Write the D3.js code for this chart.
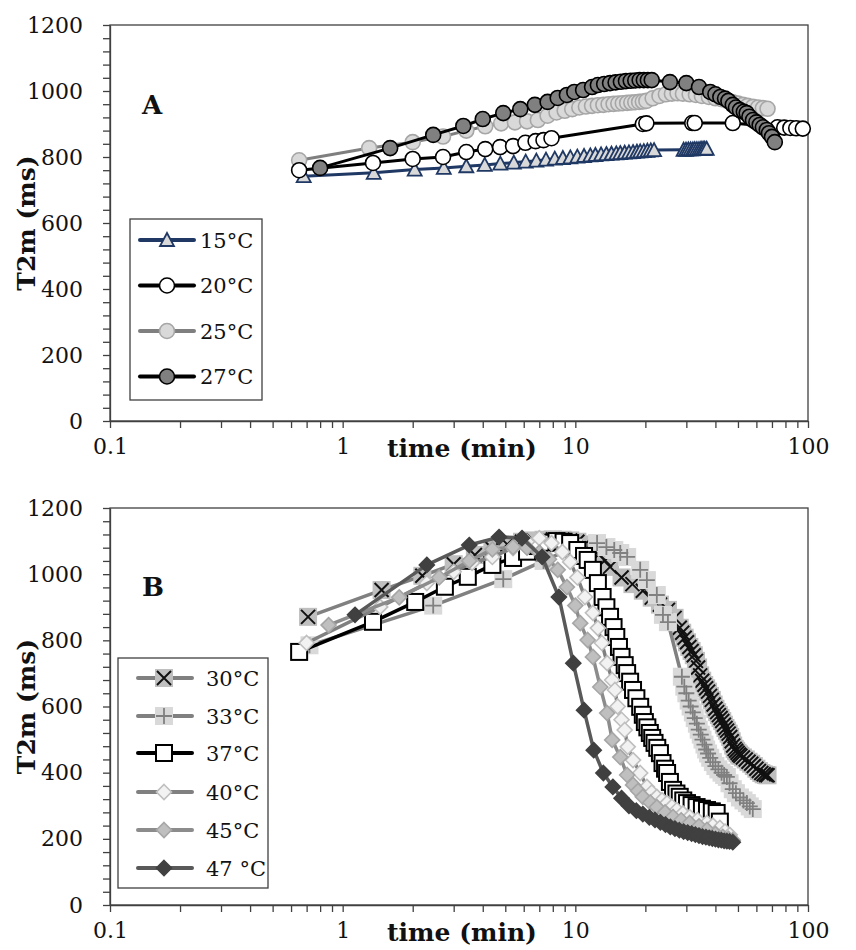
<!DOCTYPE html>
<html><head><meta charset="utf-8">
<script src="https://cdn.jsdelivr.net/npm/d3@7"></script>
<style>body{margin:0;background:#fff}</style>
</head><body>
<svg id="chart" width="856" height="950"></svg>
<script>
// ---------------- DATA ----------------
const xTickValues = [0.1,0.2,0.3,0.4,0.5,0.6,0.7,0.8,0.9,1,2,3,4,5,6,7,8,9,10,20,30,40,50,60,70,80,90,100];
const xLabelValues = [0.1,1,10,100];
const xLabelTexts = ["0.1","1","10","100"];
const yLabelValues = [0,200,400,600,800,1000,1200];

// Panel A
const t15 = [0.68,1.36,2.04,2.72,3.4,4.08,4.76,5.44,6.12,6.8,7.48,8.16,8.84,9.52,10.2,10.9,11.6,12.2,12.9,13.6,14.3,15.0,15.6,16.3,17.0,17.7,18.4,19.0,19.7,20.4,21.1,21.8,29.2,29.9,30.6,31.3,32.0,32.6,33.3,34.0,34.7,35.4,36.0,36.7];
const v15 = [742,752,762,767,772,776,780,783,786,789,792,795,797,799,801,803,805,806,808,809,810,811,812,813,814,815,816,817,818,819,820,821,822,822,823,823,823,824,824,824,825,825,825,825];
const t20 = [0.65,1.35,2.0,2.7,3.4,4.1,4.75,5.4,6.1,6.75,7.3,7.9,19.5,20.2,31.8,32.6,47.5,74,79,84,89,95];
const v20 = [760,782,794,800,815,824,830,833,843,848,851,857,900,902,903,903,903,890,889,888,887,886];
const t25 = [0.65,1.3,2.0,2.7,3.4,4.1,4.8,5.5,6.2,6.9,7.6,8.3,9.0,9.7,10.4,11.1,11.8,12.5,13.2,13.9,14.6,15.3,16.0,16.7,17.4,18.1,18.8,19.5,20.2,21.5,23,24.5,26,27.5,29,31,33,35,37.5,40,42.5,45,47.5,50,52.5,55,58,61,64,67];
const v25 = [790,827,845,862,880,893,902,905,908,912,925,935,940,945,950,953,955,957,958,960,961,962,963,964,965,966,967,968,970,978,985,990,992,993,992,990,988,985,982,978,975,970,966,962,958,955,952,950,948,946];
const t27 = [0.8,1.6,2.45,3.3,4.0,4.9,5.8,6.7,7.6,8.4,9.2,9.9,10.8,11.8,12.5,13.3,14.1,14.9,15.7,16.5,17.3,18.1,18.9,19.7,20.5,21.3,25.5,30,34,38,40,42,44,45.5,47.5,49,51,53,54.5,56,58,60,62,64,66.5,68,70,72];
const v27 = [767,827,867,894,915,933,945,958,967,979,988,997,1003,1012,1018,1021,1024,1026,1028,1030,1031,1032,1033,1033,1033,1033,1027,1024,1012,997,990,982,977,970,958,950,942,937,933,922,912,905,897,890,882,872,861,845];

// Panel B
const t30 = [0.71,1.47,2.2,3.0,3.7,4.4,5.1,5.9,6.6,7.3,8.0,8.8,9.5,10.2,11.0,11.8,12.6,13.4,
  14.1,15.8,17.6,19.5,21.3,23.1,25.0,26.7,28.1,28.8,29.5,30.2,30.9,31.6,32.3,33.0,33.7,34.4,
  35.1,35.8,36.5,37.2,37.9,38.6,39.3,40.0,40.7,41.4,42.1,42.8,43.5,44.2,44.9,45.6,46.3,47.0,47.7,48.4,
  49.1,49.8,50.5,51.2,52.5,54,55.5,57,58.5,60,61.5,63,64.5,66,67];
const v30 = [871,952,995,1030,1058,1077,1090,1098,1102,1104,1105,1104,1102,1098,1090,1078,1060,1042,
  1022,990,970,950,929,908,892,868,838,823,808,794,780,768,755,738,718,694,
  678,665,655,645,632,620,606,593,583,574,565,556,545,535,527,518,508,495,482,472,
  466,460,455,451,446,440,433,427,420,412,405,399,395,393,392];
const t33 = [0.72,2.45,4.9,7.3,9.8,12.4,13.6,14.7,15.6,16.7,19.0,20.3,22.4,23.8,25.0,28.7,29.4,30.0,30.7,31.3,32.0,32.6,33.3,33.9,34.6,35.2,35.9,36.5,37.2,38.0,39.0,40.0,41.2,42.5,43.6,44.8,46.0,47.5,49.0,51.0,52.8,54.6,56.2,57.9];
const v33 = [785,905,985,1040,1080,1094,1082,1073,1064,1052,1013,982,937,877,855,690,660,640,618,600,582,565,548,530,515,500,485,470,458,445,432,420,410,400,393,387,368,350,338,325,316,308,298,290];
const t37 = [0.65,1.35,2.05,2.75,3.45,4.4,5.4,6.2,6.9,7.6,8.3,8.9,9.5,10.2,10.9,11.3,11.9,12.5,13.1,13.6,14.1,14.6,15.0,15.4,15.8,16.3,16.7,17.2,17.7,18.3,19.0,19.5,19.9,20.4,20.9,21.4,21.9,22.5,23.1,23.7,24.3,24.8,25.5,26.3,27.2,28.1,29.1,30.2,31.6,33.2,35.0,36.8,38.6,40.5,41.8];
const v37 = [765,856,916,962,992,1028,1049,1068,1085,1095,1100,1098,1094,1073,1055,1043,1013,973,931,900,871,840,810,780,750,725,701,675,650,625,599,575,553,537,520,505,490,475,459,429,412,399,372,348,337,327,316,308,302,296,291,287,283,278,252];
const t40 = [0.7,1.45,2.3,3.0,3.6,4.4,5.4,6.2,7.0,7.9,8.8,9.5,10.2,11.0,11.9,12.5,13.0,13.7,14.4,14.8,15.2,15.8,16.3,16.8,17.7,19.0,20.3,21.3,22.4,23.6,24.8,26,27.3,29,31,33.5,36.8,39,41.8,44,46.1];
const v40 = [792,901,973,1007,1034,1052,1079,1098,1109,1094,1067,1037,990,931,883,837,792,731,680,650,600,560,529,478,438,399,357,340,327,317,308,297,287,277,266,257,248,240,233,222,212];
const t45 = [0.87,1.75,2.6,3.5,4.4,5.4,6.2,7.0,7.7,8.4,9.2,10.0,10.5,11.3,11.9,12.8,13.7,14.4,15.6,16.7,17.7,18.6,19.5,21,22.4,24.3,26.3,28.5,31,34,36.8,40,43,45.5,47.5];
const v45 = [846,930,990,1040,1075,1082,1080,1065,1045,1013,961,905,852,801,750,659,580,499,447,393,363,345,327,310,296,280,266,256,248,238,227,215,206,200,196];
const t47 = [1.13,2.3,3.5,4.7,5.9,7.2,8.5,9.8,10.9,12.0,13.2,14.5,15.8,17.0,18.3,19.5,20.8,22.0,23.2,24.4,25.6,26.8,28.0,29.2,30.4,31.6,32.8,34.0,35.2,36.4,37.6,38.8,40.0,41.2,42.4,43.6,44.8,46.0,47.5];
const v47 = [877,1028,1088,1112,1109,1052,931,731,589,468,399,357,323,300,285,275,265,257,250,243,236,231,226,222,219,216,213,210,207,205,203,201,199,197,196,194,193,192,190];

const seriesA = [
  {name:"15°C", t:t15, v:v15, line:"#1f3864", lw:3, marker:"triangle", fill:"#d9d9d9", stroke:"#1f3864"},
  {name:"25°C", t:t25, v:v25, line:"#7f7f7f", lw:3, marker:"circle", fill:"#d9d9d9", stroke:"#a6a6a6"},
  {name:"20°C", t:t20, v:v20, line:"#000000", lw:3, marker:"circle", fill:"#ffffff", stroke:"#000000"},
  {name:"27°C", t:t27, v:v27, line:"#000000", lw:3, marker:"circle", fill:"#808080", stroke:"#000000"}
];
const legendAOrder = ["15°C","20°C","25°C","27°C"];
const seriesB = [
  {name:"30°C", t:t30, v:v30, line:"#808080", lw:3.5, marker:"xsquare", fill:"#bfbfbf", stroke:"#111111"},
  {name:"33°C", t:t33, v:v33, line:"#808080", lw:3.5, marker:"psquare", fill:"#d9d9d9", stroke:"#808080"},
  {name:"37°C", t:t37, v:v37, line:"#000000", lw:3.5, marker:"square", fill:"#ffffff", stroke:"#000000"},
  {name:"40°C", t:t40, v:v40, line:"#808080", lw:3.5, marker:"diamond", fill:"#f2f2f2", stroke:"#bfbfbf"},
  {name:"45°C", t:t45, v:v45, line:"#8c8c8c", lw:3.5, marker:"diamond", fill:"#bfbfbf", stroke:"#a6a6a6"},
  {name:"47 °C", t:t47, v:v47, line:"#595959", lw:3.5, marker:"diamond", fill:"#404040", stroke:"#404040"}
];

// ---------------- DRAW ----------------
const svg = d3.select("#chart");
const FONT = "'DejaVu Serif', serif";
const x = d3.scaleLog().domain([0.1,100]).range([110,808]);

// pass: "all" | "bg" | "fg"  (bg/fg split for cross-in-square markers)
function drawMarker(g, type, cx, cy, s, pass) {
  pass = pass || "all";
  if (type === "triangle") {
    const h = 12, w = 14;
    g.append("path").attr("d", `M${cx},${cy-h/2-1}L${cx+w/2},${cy+h/2}L${cx-w/2},${cy+h/2}Z`)
      .attr("fill", s.fill).attr("stroke", s.stroke).attr("stroke-width", 1.8);
  } else if (type === "circle") {
    g.append("circle").attr("cx", cx).attr("cy", cy).attr("r", 7.5)
      .attr("fill", s.fill).attr("stroke", s.stroke).attr("stroke-width", 1.6);
  } else if (type === "square") {
    g.append("rect").attr("x", cx-8).attr("y", cy-8).attr("width", 16).attr("height", 16)
      .attr("fill", s.fill).attr("stroke", s.stroke).attr("stroke-width", 2);
  } else if (type === "xsquare") {
    if (pass !== "fg") g.append("rect").attr("x", cx-9).attr("y", cy-9).attr("width", 18).attr("height", 18).attr("fill", s.fill);
    if (pass !== "bg") g.append("path").attr("d", `M${cx-7},${cy-7}L${cx+7},${cy+7}M${cx+7},${cy-7}L${cx-7},${cy+7}`)
      .attr("stroke", s.stroke).attr("stroke-width", 2);
  } else if (type === "psquare") {
    if (pass !== "fg") g.append("rect").attr("x", cx-9).attr("y", cy-9).attr("width", 18).attr("height", 18).attr("fill", s.fill);
    if (pass !== "bg") g.append("path").attr("d", `M${cx-8},${cy}L${cx+8},${cy}M${cx},${cy-8}L${cx},${cy+8}`)
      .attr("stroke", s.stroke).attr("stroke-width", 1.8);
  } else if (type === "diamond") {
    const r = 7.5;
    g.append("path").attr("d", `M${cx},${cy-r}L${cx+r},${cy}L${cx},${cy+r}L${cx-r},${cy}Z`)
      .attr("fill", s.fill).attr("stroke", s.stroke).attr("stroke-width", 1.6);
  }
}

function drawPanel(top, bottom, series, letter, letterBaseline) {
  const y = d3.scaleLinear().domain([0,1200]).range([bottom, top]);
  const g = svg.append("g");

  g.append("rect").attr("x", 110).attr("y", top).attr("width", 698).attr("height", bottom-top)
    .attr("fill", "none").attr("stroke", "#404040").attr("stroke-width", 1.3);

  const xa = g.append("g").attr("transform", `translate(0,${bottom})`)
    .call(d3.axisBottom(x).tickValues(xTickValues).tickSize(7).tickSizeOuter(0).tickPadding(10)
      .tickFormat(d => { const i = xLabelValues.findIndex(v => Math.abs(v-d) < 1e-9); return i >= 0 ? xLabelTexts[i] : ""; }));
  xa.selectAll("path,line").attr("stroke", "#404040").attr("stroke-width", 1.3);
  xa.selectAll("text").attr("font-family", FONT).attr("font-size", 22).attr("fill", "#111");

  const ya = g.append("g").attr("transform", "translate(110,0)")
    .call(d3.axisLeft(y).tickValues(d3.range(0, 1201, 40)).tickSize(7).tickSizeOuter(0).tickPadding(20)
      .tickFormat(d => yLabelValues.includes(d) ? String(d) : ""));
  ya.selectAll("path,line").attr("stroke", "#404040").attr("stroke-width", 1.3);
  ya.selectAll("text").attr("font-family", FONT).attr("font-size", 22).attr("fill", "#111");

  g.append("text").attr("x", 462).attr("y", bottom + 36).attr("text-anchor", "middle")
    .attr("font-family", FONT).attr("font-weight", "bold").attr("font-size", 25).attr("fill", "#111")
    .text("time (min)");
  g.append("text").attr("transform", `translate(35,${(top+bottom)/2}) rotate(-90)`).attr("text-anchor", "middle")
    .attr("font-family", FONT).attr("font-weight", "bold").attr("font-size", 25).attr("fill", "#111")
    .text("T2m (ms)");
  g.append("text").attr("x", 142).attr("y", letterBaseline)
    .attr("font-family", FONT).attr("font-weight", "bold").attr("font-size", 26).attr("fill", "#111")
    .text(letter);

  const line = d3.line().x(d => x(d[0])).y(d => y(d[1]));
  series.forEach(s => {
    const pts = s.t.map((t, i) => [t, s.v[i]]);
    const sg = g.append("g");
    sg.append("path").attr("d", line(pts)).attr("fill", "none").attr("stroke", s.line)
      .attr("stroke-width", s.lw).attr("stroke-linejoin", "round");
    if (s.marker === "xsquare" || s.marker === "psquare") {
      pts.forEach(p => drawMarker(sg, s.marker, x(p[0]), y(p[1]), s, "bg"));
      pts.forEach(p => drawMarker(sg, s.marker, x(p[0]), y(p[1]), s, "fg"));
    } else {
      pts.forEach(p => drawMarker(sg, s.marker, x(p[0]), y(p[1]), s));
    }
  });
  return g;
}

function drawLegend(box, rows, items, lx0, lx1, mx, tx) {
  const g = svg.append("g");
  g.append("rect").attr("x", box[0]).attr("y", box[1]).attr("width", box[2]).attr("height", box[3])
    .attr("fill", "#fff").attr("stroke", "#404040").attr("stroke-width", 1.3);
  items.forEach((s, i) => {
    const yy = rows[i];
    g.append("line").attr("x1", lx0).attr("x2", lx1).attr("y1", yy).attr("y2", yy)
      .attr("stroke", s.line).attr("stroke-width", 4).attr("stroke-linecap", "round");
    drawMarker(g, s.marker, mx, yy, s);
    g.append("text").attr("x", tx).attr("y", yy).attr("dy", "0.36em")
      .attr("font-family", FONT).attr("font-size", 21).attr("fill", "#111").text(s.name);
  });
}

drawPanel(25, 421, seriesA, "A", 114);
drawPanel(508, 905, seriesB, "B", 596);

drawLegend([130, 219, 132, 181], [240, 285.5, 331, 376.5],
  legendAOrder.map(n => seriesA.find(s => s.name === n)), 140, 194, 167, 200);
drawLegend([118, 658, 150, 230], [678, 716, 753, 792, 830, 868],
  seriesB, 138, 192, 164, 206);
</script>
</body></html>
